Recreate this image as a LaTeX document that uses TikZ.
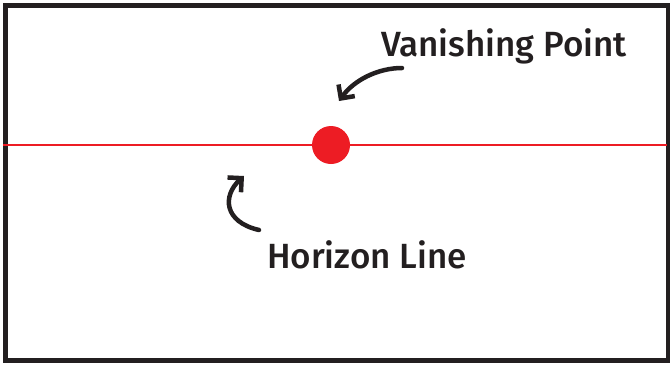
\documentclass[tikz,border=0pt]{standalone}
\usepackage{fontspec}
\setmainfont{Fira Sans}
\newfontfamily\scritta{Fira Sans Medium}
\usetikzlibrary{arrows.meta}
\definecolor{rosso}{RGB}{237,28,36}
\definecolor{inchiostro}{RGB}{35,31,32}
\tikzset{
  etichetta/.style={font=\scritta\fontsize{35}{37}\selectfont, text=inchiostro, inner sep=0pt},
  freccia/.style={-{Straight Barb[length=10pt,width=20pt]}, line width=4.5pt, line cap=round, draw=inchiostro},
}
\begin{document}
\begin{tikzpicture}[x=1pt,y=-1pt]
  \useasboundingbox (0,0) rectangle (670,365);

  % Cornice
  \draw[line width=5pt, draw=inchiostro] (5.5,5.5) rectangle (668,360.5);

  % Linea dell'orizzonte
  \coordinate (hsx) at (3,145);
  \coordinate (hdx) at (667,145);
  \draw[rosso, line width=2.5pt] (hsx) -- (hdx);

  % Punto di fuga
  \node[circle, fill=rosso, minimum size=38pt, inner sep=0pt] (vp) at (331,145) {};

  % Etichette
  \node[etichetta] (vptxt) at (504,46) {Vanishing Point};
  \node[etichetta] (hltxt) at (367,255) {Horizon Line};

  % Frecce
  \coordinate (f1) at (402,68);
  \coordinate (p1) at (339,101);
  \coordinate (f2) at (259,230);
  \coordinate (p2) at (244,176);
  \draw[freccia] (f1) .. controls (378,68) and (354,80) .. (p1);
  \draw[freccia] (f2) .. controls (224,222) and (222,196) .. (p2);
\end{tikzpicture}
\end{document}
